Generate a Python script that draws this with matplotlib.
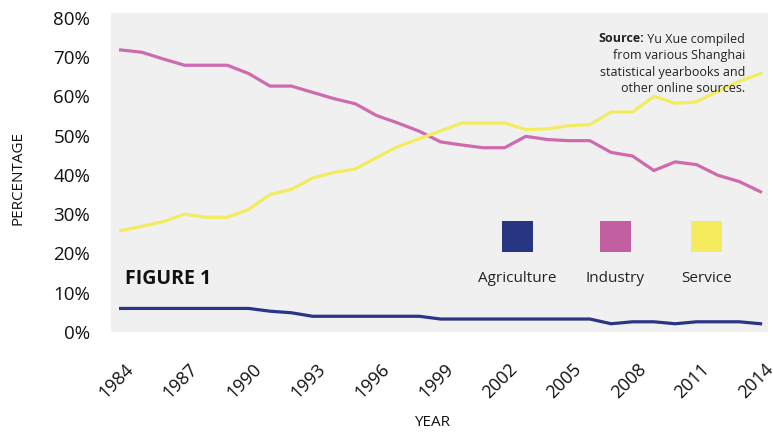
import matplotlib
matplotlib.use("Agg")
import matplotlib.pyplot as plt
from matplotlib.patches import Rectangle
from matplotlib.ticker import FuncFormatter
from matplotlib.transforms import ScaledTranslation

years = list(range(1984, 2015))
agriculture = [6.0, 6.0, 6.0, 6.0, 6.0, 6.0, 6.0, 5.3, 4.9, 4.0, 4.0, 4.0, 4.0, 4.0, 4.0,
               3.3, 3.3, 3.3, 3.3, 3.3, 3.3, 3.3, 3.3, 2.1, 2.6, 2.6, 2.1, 2.6, 2.6, 2.6, 2.1]
industry = [71.8, 71.2, 69.5, 67.9, 67.9, 67.9, 65.8, 62.6, 62.6, 61.0, 59.4, 58.1, 55.1, 53.2,
            51.1, 48.4, 47.6, 46.9, 46.9, 49.8, 49.0, 48.7, 48.7, 45.7, 44.8, 41.1, 43.3, 42.6,
            39.9, 38.3, 35.7]
service = [25.8, 26.9, 28.1, 30.0, 29.2, 29.2, 31.2, 35.0, 36.3, 39.2, 40.6, 41.5, 44.4, 47.2,
           49.2, 51.2, 53.2, 53.2, 53.2, 51.5, 51.7, 52.5, 52.8, 56.0, 56.0, 60.0, 58.2, 58.6,
           61.3, 63.8, 65.8]
series_names = ["Agriculture", "Industry", "Service"]
line_colors = ["#2B3585", "#CF6AAE", "#F3EC5E"]
square_colors = ["#283583", "#C25FA1", "#F4EC5D"]
xticks = list(range(1984, 2015, 3))
yticks = [0, 10, 20, 30, 40, 50, 60, 70, 80]

plt.rcParams['font.family'] = ['Open Sans', 'DejaVu Sans']

fig = plt.figure(figsize=(7.73, 4.32), dpi=100)
ax = fig.add_axes([111/773, 1-332/432, 657/773, 319/432])
ax.set_facecolor("#F0F0F0")
for s in ax.spines.values():
    s.set_visible(False)

for vals, col in zip([agriculture, industry, service], line_colors):
    ax.plot(years, vals, color=col, lw=2.3, solid_joinstyle='miter')

ax.set_xlim(1983.55, 2014.35)
ax.set_ylim(0, 81.2)
ax.set_yticks(yticks)
ax.yaxis.set_major_formatter(FuncFormatter(lambda v, p: f"{int(v)}%"))
ax.set_xticks(xticks)
ax.tick_params(axis='y', length=0, labelsize=13.5, colors="#111111", pad=15)
ax.tick_params(axis='x', length=0, labelsize=13, colors="#111111", pad=20)
shift = ScaledTranslation(-4/100, 0, fig.dpi_scale_trans)
for tick in ax.xaxis.get_major_ticks():
    lab = tick.label1
    lab.set_rotation(45)
    lab.set_ha('center')
    lab.set_va('top')
    lab.set_transform(lab.get_transform() + shift)

fig.text(18/773, 1-178/432, "PERCENTAGE", rotation=90, ha='center', va='center',
         fontsize=11, color="#111111")
fig.text(432/773, 1-423/432, "YEAR", ha='center', va='center', fontsize=11, color="#111111")

ax.text(0.0213, 0.150, "FIGURE 1", transform=ax.transAxes, fontsize=14, fontweight='bold',
        color="#111111", ha='left', va='baseline')

sq_x = [0.5947, 0.7443, 0.8828]
lab_x = [0.6184, 0.7671, 0.9067]
for name, col, sx, lx in zip(series_names, square_colors, sq_x, lab_x):
    ax.add_patch(Rectangle((sx, 0.2517), 0.0472, 0.0962, transform=ax.transAxes,
                           facecolor=col, edgecolor='none'))
    ax.text(lx, 0.169, name, transform=ax.transAxes, ha='center', va='center',
            fontsize=11, color="#222222")

# source note
src_right = 745/773
src_lines = ["from various Shanghai", "statistical yearbooks and", "other online sources."]
src_y = [56, 72.5, 89]
for txt, yy in zip(src_lines, src_y):
    fig.text(src_right, 1-yy/432, txt, ha='right', va='center', fontsize=9, color="#222222")
t1 = fig.text(src_right, 1-39/432, " Yu Xue compiled", ha='right', va='center', fontsize=9,
              color="#222222")
fig.canvas.draw()
bb = t1.get_window_extent()
fig.text(bb.x0/fig.bbox.width, 1-39/432, "Source:", ha='right', va='center', fontsize=9,
         fontweight='bold', color="#222222")

fig.savefig("out.png", dpi=100, facecolor='white')
